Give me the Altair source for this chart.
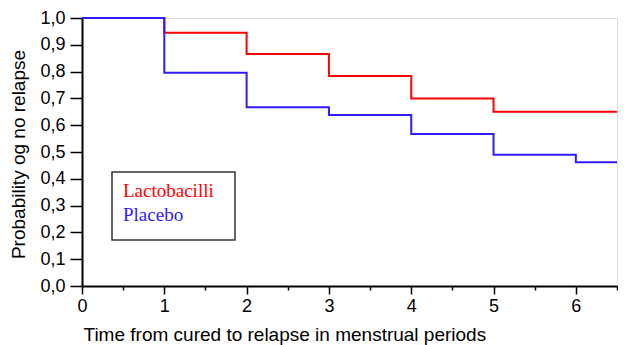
import altair as alt
import pandas as pd

# Data (Kaplan-Meier style step curves)
times = [0, 1, 2, 3, 4, 5, 6, 6.5]
lacto = [1.0, 0.945, 0.866, 0.784, 0.700, 0.650, 0.650, 0.650]
placebo = [1.0, 0.796, 0.667, 0.638, 0.567, 0.490, 0.462, 0.462]
series_names = ["Lactobacilli", "Placebo"]
series_colors = ["#ff0000", "#2e1cff"]
x_ticks = [0, 0.5, 1, 1.5, 2, 2.5, 3, 3.5, 4, 4.5, 5, 5.5, 6, 6.5]
y_ticks = [0.0, 0.1, 0.2, 0.3, 0.4, 0.5, 0.6, 0.7, 0.8, 0.9, 1.0]

rows = []
for name, vals in zip(series_names, [lacto, placebo]):
    for t, v in zip(times, vals):
        rows.append({"time": t, "prob": v, "series": name})
df = pd.DataFrame(rows)

W, H = 535, 268
SANS = "Liberation Sans"
SERIF = "Liberation Serif"

x_axis = alt.Axis(
    values=x_ticks,
    labelExpr="datum.value % 1 === 0 ? format(datum.value, 'd') : ''",
    tickSize={"condition": {"test": "datum.value % 1 === 0", "value": 8}, "value": 4},
    tickWidth=1.5,
    tickColor="black",
    domainColor="black",
    domainWidth=2,
    grid=False,
    labelFont=SANS,
    labelFontSize=18,
    labelColor="black",
    labelPadding=3,
    labelFlush=False,
    title="Time from cured to relapse in menstrual periods",
    titleFont=SANS,
    titleFontSize=19,
    titleFontWeight="normal",
    titleColor="black",
    titleAnchor="start",
    titleAlign="left",
    titleX=1,
    titleY=54,
    titleBaseline="alphabetic",
)

y_axis = alt.Axis(
    values=y_ticks,
    labelExpr="replace(format(datum.value, '.1f'), '.', ',')",
    tickSize=12,
    tickWidth=1.5,
    tickColor="black",
    domainColor="black",
    domainWidth=2,
    grid=False,
    labelFont=SANS,
    labelFontSize=18,
    labelColor="black",
    labelPadding=5,
    labelFlush=False,
    title="Probability og no relapse",
    titleFont=SANS,
    titleFontSize=19,
    titleFontWeight="normal",
    titleColor="black",
    titleAngle=-90,
    titleAlign="center",
    titleBaseline="alphabetic",
    titleX=-58,
    titleY=136,
)

lines = alt.Chart(df).mark_line(interpolate="step-after", strokeWidth=2).encode(
    x=alt.X("time:Q", scale=alt.Scale(domain=[0, 6.5], nice=False, zero=False), axis=x_axis),
    y=alt.Y("prob:Q", scale=alt.Scale(domain=[0, 1], nice=False), axis=y_axis),
    color=alt.Color("series:N", scale=alt.Scale(domain=series_names, range=series_colors), legend=None),
)

legend_box = alt.Chart(pd.DataFrame({"k": [0]})).mark_rect(
    fill="white", stroke="#333333", strokeWidth=1.5
).encode(
    x=alt.value(30), x2=alt.value(153), y=alt.value(154), y2=alt.value(222)
)

legend_l = alt.Chart(pd.DataFrame({"t": [series_names[0]]})).mark_text(
    font=SERIF, fontSize=19, align="left", baseline="alphabetic", color=series_colors[0]
).encode(x=alt.value(41), y=alt.value(179), text="t:N")

legend_p = alt.Chart(pd.DataFrame({"t": [series_names[1]]})).mark_text(
    font=SERIF, fontSize=19, align="left", baseline="alphabetic", color=series_colors[1]
).encode(x=alt.value(41), y=alt.value(203), text="t:N")

chart = alt.layer(lines, legend_box, legend_l, legend_p).properties(
    width=W,
    height=H,
    autosize=alt.AutoSizeParams(type="none"),
    padding={"left": 74, "top": 10, "right": 1, "bottom": 62},
).configure_view(
    stroke="black", strokeWidth=2
).configure(background="white")

chart.save("out.html", embed_options={"renderer": "svg", "actions": False})
